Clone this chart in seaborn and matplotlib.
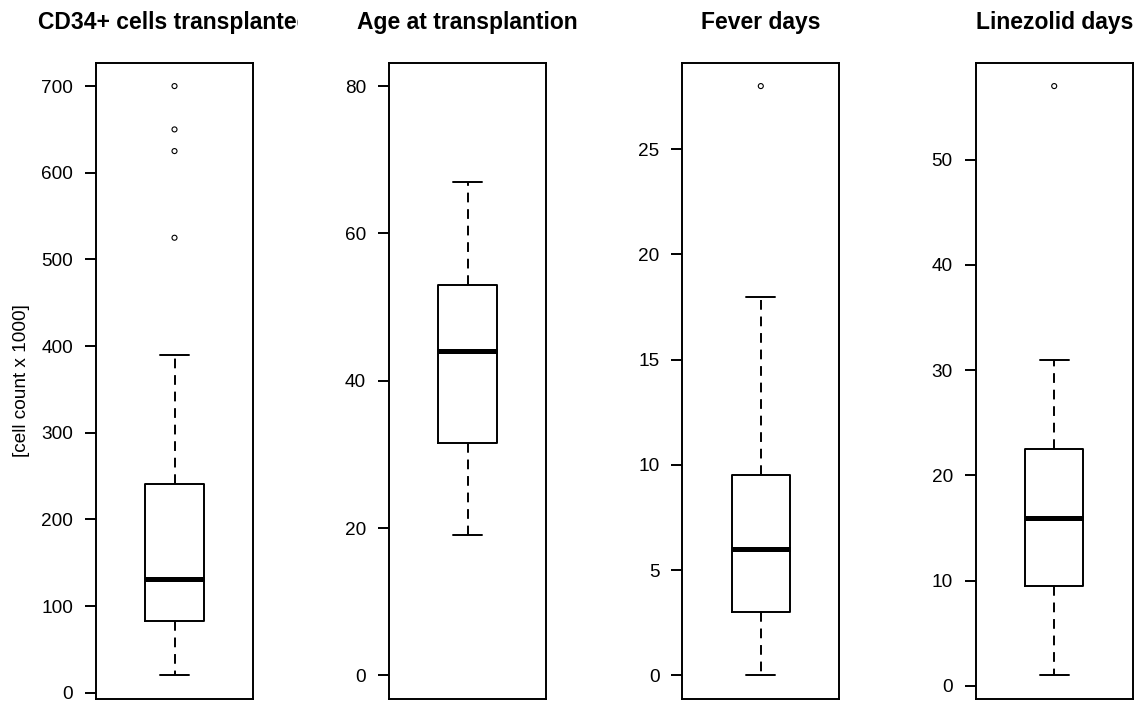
import numpy as np
import matplotlib
matplotlib.use("Agg")
import matplotlib.pyplot as plt
from matplotlib.transforms import Bbox, TransformedBbox
import seaborn as sns

# Panel titles
titles = ["CD34+ cells transplanted", "Age at transplantion", "Fever days", "Linezolid days"]
ylabel_first = "[cell count x 1000]"

# Five-number summaries: lower whisker, Q1, median, Q3, upper whisker
whisker_low = [20, 19, 0, 1]
q1 = [82.5, 31.5, 3, 9.5]
median = [131, 44, 6, 16]
q3 = [241, 53, 9.5, 22.5]
whisker_high = [390, 67, 18, 31]

# Outlying observations per panel
outliers = [[525, 625, 650, 700], [], [28], [57]]

# Axis ranges (before 4% padding) and tick positions
y_ranges = [(20, 700), (0, 80), (0, 28), (1, 57)]
y_ticks = [np.arange(0, 701, 100), np.arange(0, 81, 20), np.arange(0, 26, 5), np.arange(0, 51, 10)]

sns.set_theme(style="white")
plt.rcParams["font.family"] = ["Liberation Sans", "DejaVu Sans"]

W, H = 1139, 701
fig = plt.figure(figsize=(W / 100, H / 100), dpi=100)
fig.patch.set_facecolor("white")

lefts_px = [96, 389, 682.3, 975.7]
width_px = 157
top_px, bottom_px = 62.5, 699

tick_fs = 13.7
title_fs = 16.5
lw = 1.4

for i in range(4):
    ax = fig.add_axes([lefts_px[i] / W, 1 - bottom_px / H,
                       width_px / W, (bottom_px - top_px) / H])
    ax.set_facecolor("white")
    stats = [dict(whislo=whisker_low[i], q1=q1[i], med=median[i],
                  q3=q3[i], whishi=whisker_high[i], fliers=[])]
    ax.bxp(stats, positions=[0], widths=0.4, capwidths=0.2,
           showfliers=False, patch_artist=False,
           boxprops=dict(color="black", linewidth=lw),
           medianprops=dict(color="black", linewidth=3.6, solid_capstyle="butt"),
           whiskerprops=dict(color="black", linewidth=lw, linestyle=(0, (5, 3.5))),
           capprops=dict(color="black", linewidth=lw))
    if outliers[i]:
        sns.scatterplot(x=np.zeros(len(outliers[i])), y=outliers[i], ax=ax,
                        marker="o", s=13, color="black", facecolors="none",
                        edgecolor="black", linewidth=0.8, legend=False, zorder=3)

    lo, hi = y_ranges[i]
    pad = (hi - lo) * 0.04
    ax.set_ylim(lo - pad, hi + pad)
    ax.set_xlim(-0.54, 0.54)
    ax.set_yticks(y_ticks[i])
    ax.set_yticklabels([str(v) for v in y_ticks[i]])
    ax.set_xticks([])
    ax.set_xlabel("")
    ax.set_ylabel("")
    ax.tick_params(axis="y", direction="out", length=7.9, width=lw,
                   pad=8.6, labelsize=tick_fs, colors="black", left=True)
    for sp in ax.spines.values():
        sp.set_visible(True)
        sp.set_color("black")
        sp.set_linewidth(lw)

    cx = (lefts_px[i] + width_px / 2) / W
    t = fig.text(cx, 1 - 29 / H, titles[i], ha="center", va="baseline",
                 fontsize=title_fs, fontweight="bold", color="black")
    if i == 0:
        t.set_clip_box(TransformedBbox(Bbox([[0, 0], [298 / W, 1]]), fig.transFigure))
        t.set_clip_on(True)

fig.text(21.5 / W, 1 - ((top_px + bottom_px) / 2) / H, ylabel_first,
         rotation=90, ha="center", va="center", fontsize=tick_fs, color="black")

fig.savefig("out.png", dpi=100, facecolor="white")
